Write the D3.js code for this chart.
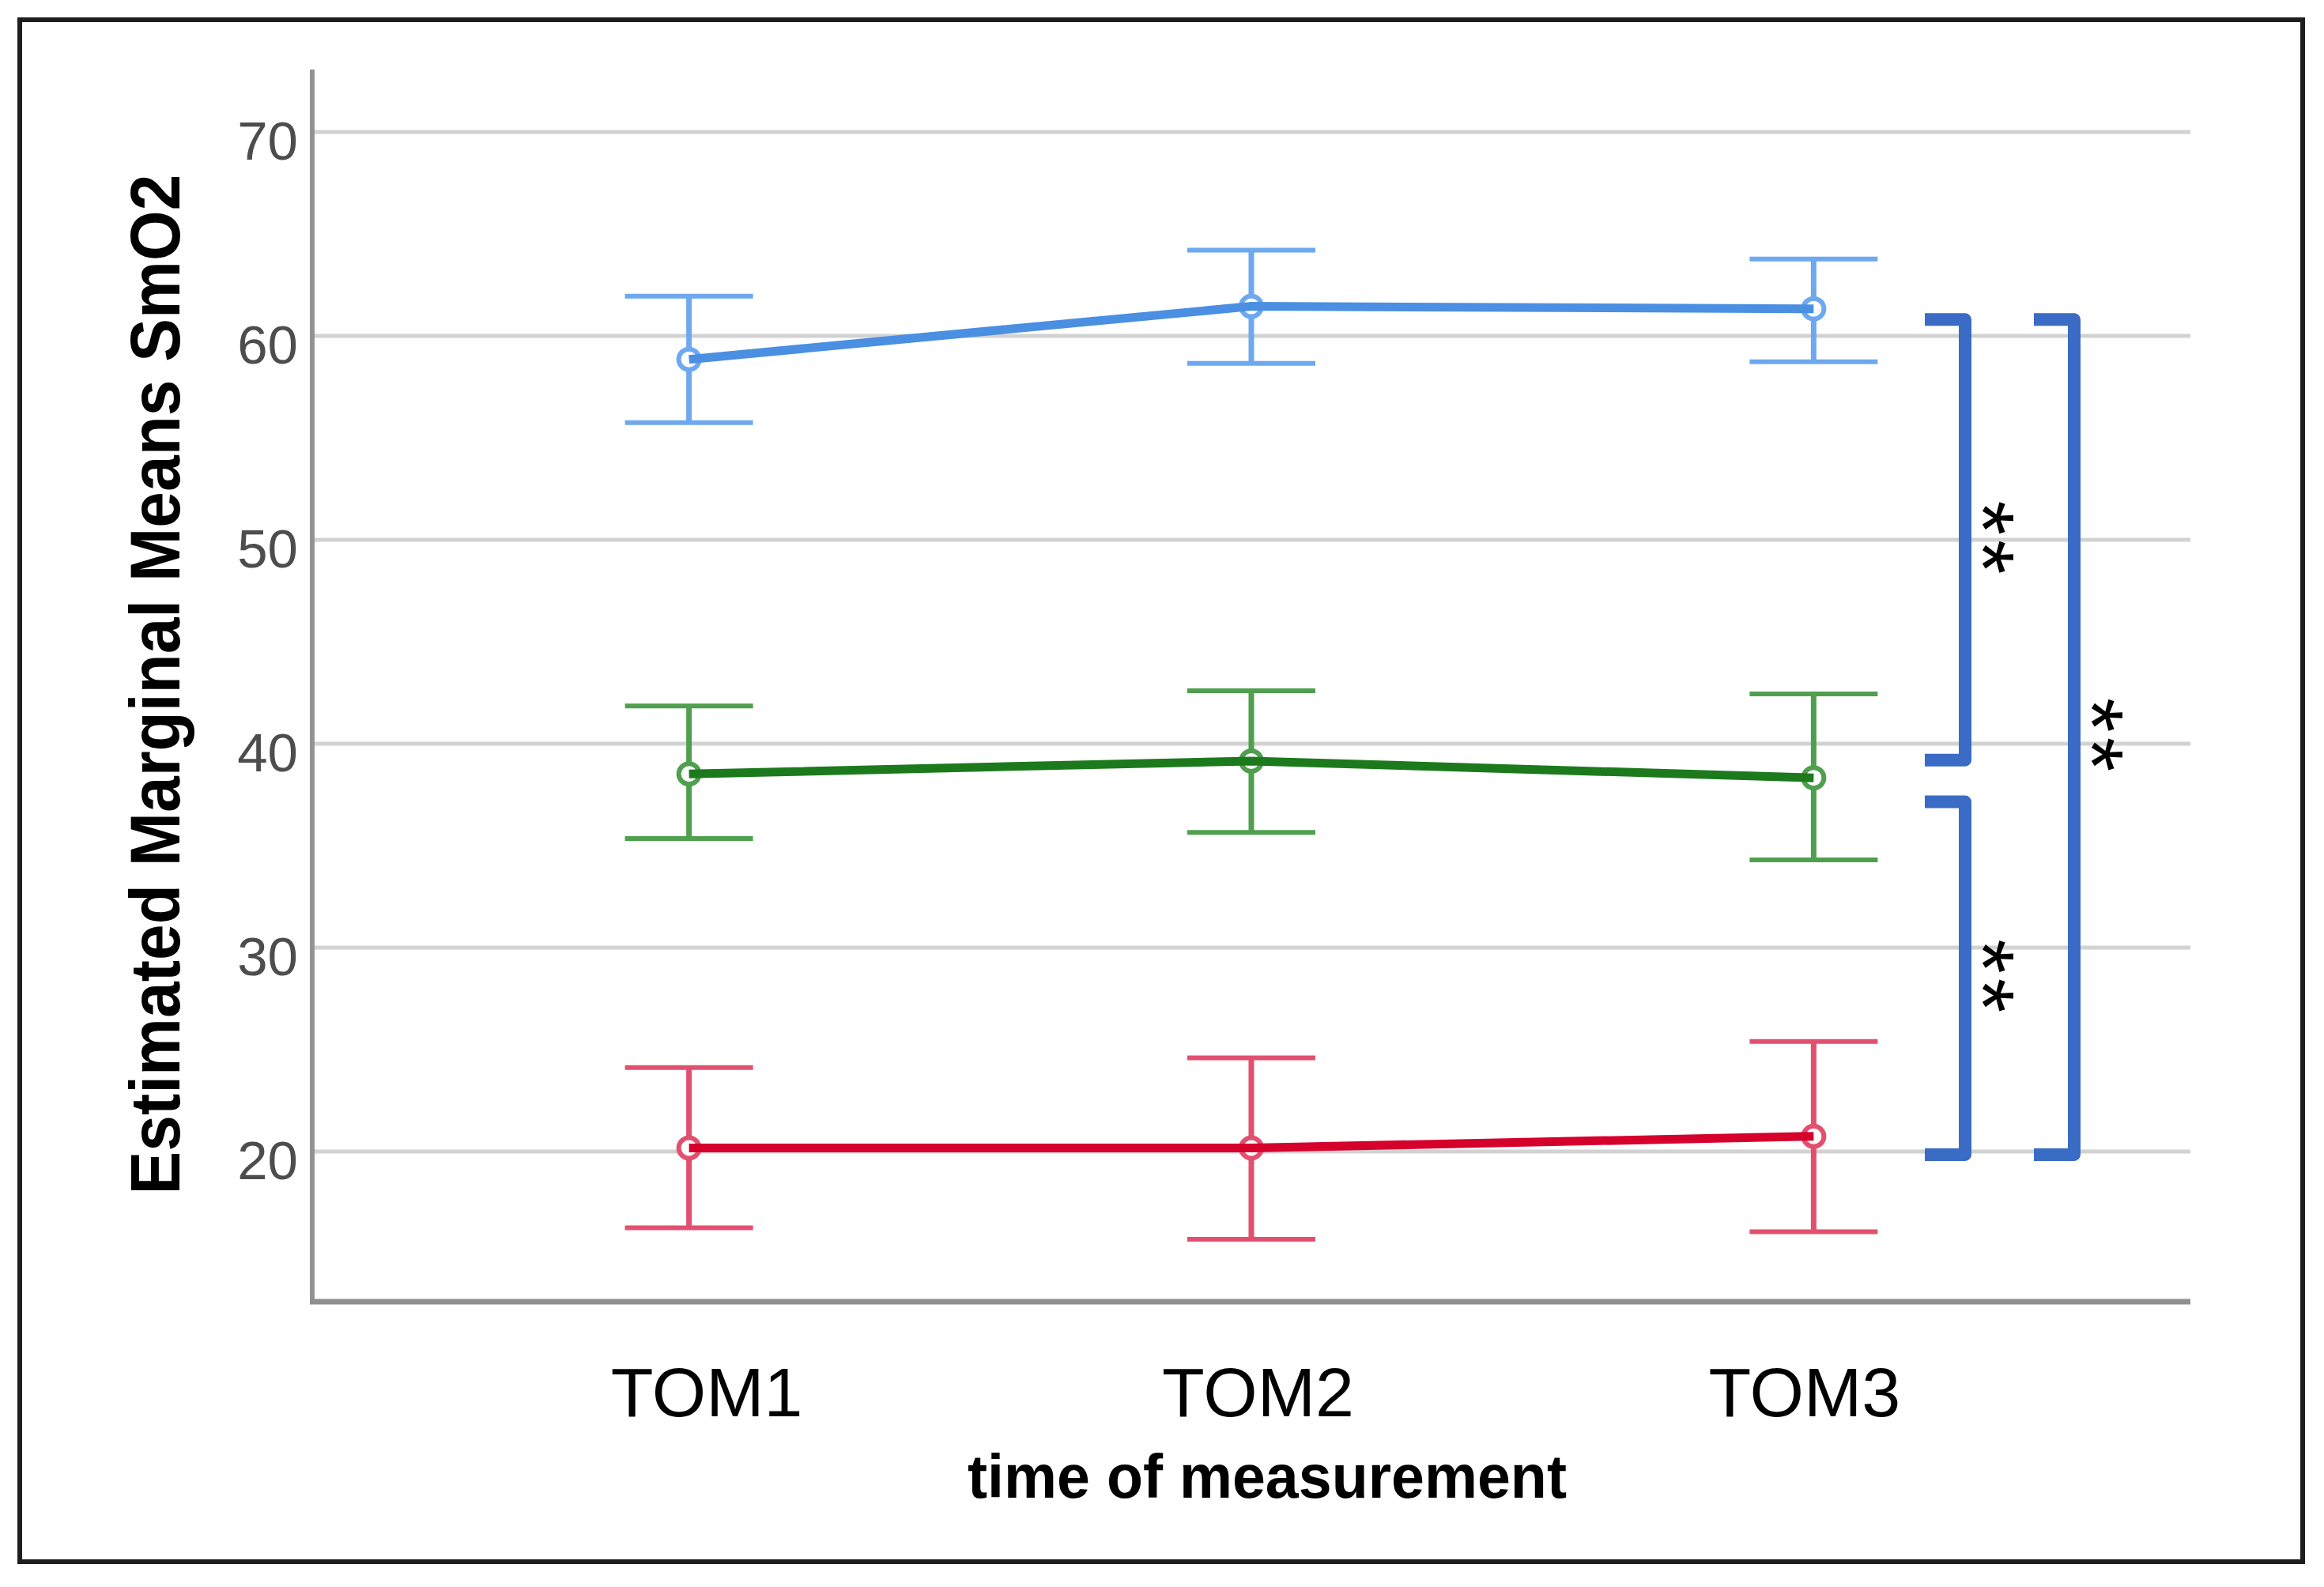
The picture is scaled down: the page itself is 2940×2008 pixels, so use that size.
<!DOCTYPE html>
<html>
<head>
<meta charset="utf-8">
<script src="https://cdn.jsdelivr.net/npm/d3@7"></script>
<style>
  body { margin: 0; background: #fff; }
  text { font-family: 'Liberation Sans', Arial, sans-serif; }
</style>
</head>
<body>
<div class="result"></div>
<script>
// values
const times = ['TOM1', 'TOM2', 'TOM3']
const yTicks = [20, 30, 40, 50, 60, 70]

const blueMean = [58.85, 61.45, 61.33]
const blueLow = [55.75, 58.65, 58.73]
const blueHigh = [61.95, 64.2, 63.77]

const greenMean = [38.52, 39.15, 38.33]
const greenLow = [35.35, 35.65, 34.3]
const greenHigh = [41.85, 42.6, 42.44]

const redMean = [20.18, 20.18, 20.75]
const redLow = [16.26, 15.7, 16.07]
const redHigh = [24.12, 24.6, 25.4]

// significance brackets: [top, bottom] in y units
const bracketSpans = [[60.8, 39.2], [37.15, 19.85], [60.8, 19.85]]
const bracketLabels = ['**', '**', '**']

const W = 2940
const H = 2008
const plotLeft = 395
const plotRight = 2771
const plotTop = 88
const plotBottom = 1647

const svg = d3
  .select('.result')
  .append('svg')
  .attr('width', W)
  .attr('height', H)

const x = d3.scalePoint().domain(times).range([plotLeft, plotRight]).padding(0.67)
const y = d3.scaleLinear().domain([12.64, 73.06]).range([plotBottom, plotTop])

// outer frame
svg
  .append('rect')
  .attr('x', 25)
  .attr('y', 25)
  .attr('width', 2888)
  .attr('height', 1951)
  .attr('fill', 'none')
  .attr('stroke', '#1e1e1e')
  .attr('stroke-width', 6)

// grid lines
svg
  .append('g')
  .selectAll('line')
  .data(yTicks)
  .enter()
  .append('line')
  .attr('x1', plotLeft)
  .attr('x2', plotRight)
  .attr('y1', (d) => y(d))
  .attr('y2', (d) => y(d))
  .attr('stroke', '#d2d2d2')
  .attr('stroke-width', 5)

// y axis (line + labels only, no ticks)
const yAxis = svg
  .append('g')
  .attr('transform', 'translate(' + plotLeft + ',0)')
  .call(d3.axisLeft(y).tickValues(yTicks).tickSize(0).tickPadding(18))
yAxis.select('.domain').remove()
yAxis
  .selectAll('text')
  .attr('font-size', 69)
  .attr('fill', '#4d4d4d')
  .attr('dy', '0.5em')
  .style('font-family', "'Liberation Sans', Arial, sans-serif")

svg
  .append('line')
  .attr('x1', plotLeft)
  .attr('x2', plotLeft)
  .attr('y1', plotTop)
  .attr('y2', plotBottom)
  .attr('stroke', '#939393')
  .attr('stroke-width', 6)

// x axis
const xAxis = svg
  .append('g')
  .attr('transform', 'translate(0,' + plotBottom + ')')
  .call(d3.axisBottom(x).tickSize(0).tickPadding(0))
xAxis.select('.domain').remove()
xAxis
  .selectAll('text')
  .attr('y', 145)
  .attr('dy', 0)
  .attr('dx', (d, i) => [22, 8, -12][i])
  .attr('font-size', 88)
  .attr('fill', '#000')
  .style('font-family', "'Liberation Sans', Arial, sans-serif")

svg
  .append('line')
  .attr('x1', plotLeft - 3)
  .attr('x2', plotRight)
  .attr('y1', plotBottom)
  .attr('y2', plotBottom)
  .attr('stroke', '#8f8f8f')
  .attr('stroke-width', 7)

// axis titles
svg
  .append('text')
  .attr('transform', 'translate(227,866) rotate(-90)')
  .attr('text-anchor', 'middle')
  .attr('font-size', 89)
  .attr('font-weight', 'bold')
  .attr('textLength', 1291)
  .attr('lengthAdjust', 'spacingAndGlyphs')
  .text('Estimated Marginal Means SmO2')

svg
  .append('text')
  .attr('x', 1603)
  .attr('y', 1895)
  .attr('text-anchor', 'middle')
  .attr('font-size', 78)
  .attr('font-weight', 'bold')
  .attr('textLength', 758)
  .attr('lengthAdjust', 'spacingAndGlyphs')
  .text('time of measurement')

// series
const series = [
  { mean: blueMean, low: blueLow, high: blueHigh, line: '#4a8fe1', bar: '#6ea8ef' },
  { mean: greenMean, low: greenLow, high: greenHigh, line: '#1c7a1c', bar: '#4f9f4f' },
  { mean: redMean, low: redLow, high: redHigh, line: '#d5002b', bar: '#e2506f' }
]

const capHalf = 81

series.forEach((s) => {
  const pts = times.map((t, i) => ({ t: t, m: s.mean[i], lo: s.low[i], hi: s.high[i] }))
  const g = svg.append('g')

  // error bar stems
  g.selectAll('.stem')
    .data(pts)
    .enter()
    .append('line')
    .attr('x1', (d) => x(d.t))
    .attr('x2', (d) => x(d.t))
    .attr('y1', (d) => y(d.hi))
    .attr('y2', (d) => y(d.lo))
    .attr('stroke', s.bar)
    .attr('stroke-width', 7)

  // caps
  g.selectAll('.cap')
    .data(pts.flatMap((d) => [{ t: d.t, v: d.hi }, { t: d.t, v: d.lo }]))
    .enter()
    .append('line')
    .attr('x1', (d) => x(d.t) - capHalf)
    .attr('x2', (d) => x(d.t) + capHalf)
    .attr('y1', (d) => y(d.v))
    .attr('y2', (d) => y(d.v))
    .attr('stroke', s.bar)
    .attr('stroke-width', 6)

  // hollow markers
  g.selectAll('circle')
    .data(pts)
    .enter()
    .append('circle')
    .attr('cx', (d) => x(d.t))
    .attr('cy', (d) => y(d.m))
    .attr('r', 13)
    .attr('fill', '#fff')
    .attr('stroke', s.bar)
    .attr('stroke-width', 6)

  // mean line drawn over the markers
  g.append('path')
    .datum(pts)
    .attr(
      'd',
      d3
        .line()
        .x((d) => x(d.t))
        .y((d) => y(d.m))
    )
    .attr('fill', 'none')
    .attr('stroke', s.line)
    .attr('stroke-width', 11)
})

// brackets
const bracketX = [2486, 2486, 2624]
const tail = 51
const bracket = svg.append('g')
bracketSpans.forEach((b, i) => {
  const bx = bracketX[i]
  bracket
    .append('path')
    .attr(
      'd',
      'M' + (bx - tail) + ',' + y(b[0]) +
        ' H' + bx +
        ' V' + y(b[1]) +
        ' H' + (bx - tail)
    )
    .attr('fill', 'none')
    .attr('stroke', '#3a6bc5')
    .attr('stroke-width', 16)
    .attr('stroke-linejoin', 'round')

  // stars stacked: rotated text
  const cy = (y(b[0]) + y(b[1])) / 2
  const fs = 112
  bracket
    .append('text')
    .attr('transform', 'translate(' + (bx + 48 - 0.57 * fs) + ',' + cy + ') rotate(90)')
    .attr('text-anchor', 'middle')
    .attr('font-size', fs)
    .attr('letter-spacing', 6)
    .attr('fill', '#000')
    .text(bracketLabels[i])
})
</script>
</body>
</html>
